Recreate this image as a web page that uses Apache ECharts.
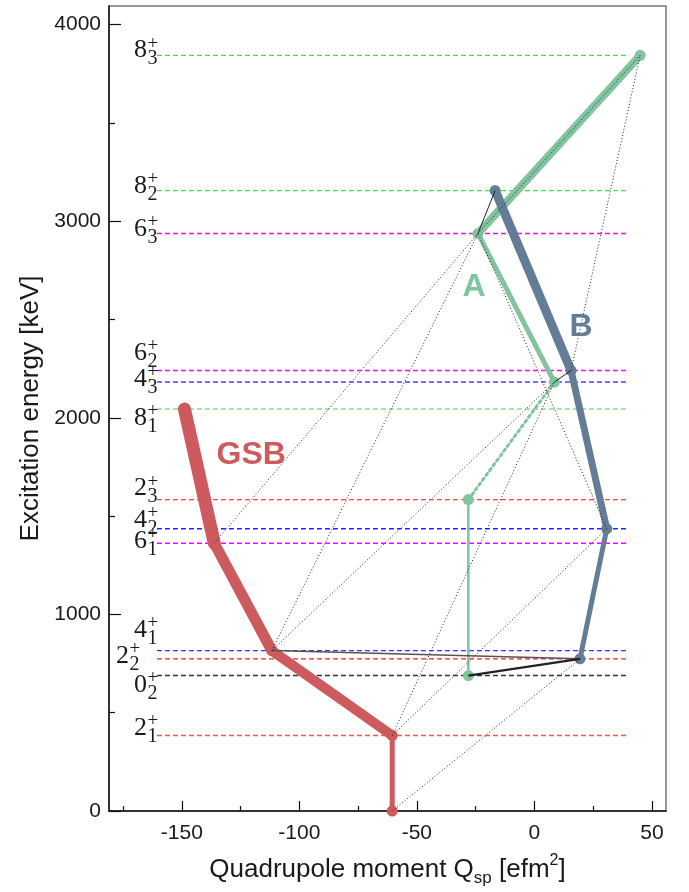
<!DOCTYPE html>
<html><head><meta charset="utf-8">
<script src="https://cdn.jsdelivr.net/npm/echarts@6/dist/echarts.min.js"></script>
<style>html,body{margin:0;padding:0;background:#fff}#c{width:689px;height:892px}</style>
</head><body><div id="c"></div>
<script>
// ---------------- DATA ----------------
// Ground-state band (GSB)
const gsbStates = ['0_1', '2_1', '4_1', '6_1', '8_1'];
const gsbEnergy = [0, 384, 816, 1362, 2045];
const gsbQ = [-60.5, -60.5, -111.7, -136.2, -148.9];
// Band A
const bandAStates = ['0_2', '2_3', '4_3', '6_3', '8_3'];
const bandAEnergy = [689, 1584, 2182, 2938, 3844];
const bandAQ = [-28.1, -28.1, 8.5, -24.0, 45.0];
// Band B
const bandBStates = ['2_2', '4_2', '6_2', '8_2'];
const bandBEnergy = [774, 1436, 2241, 3156];
const bandBQ = [19.4, 30.8, 15.6, -16.7];
// Level scheme (labels J^+_n)
const levelSpin = ['8', '8', '6', '6', '4', '8', '2', '4', '6', '4', '2', '0', '2'];
const levelIndex = ['3', '2', '3', '2', '3', '1', '3', '2', '1', '1', '2', '2', '1'];
const levelEnergy = [3844, 3156, 2938, 2241, 2182, 2045, 1584, 1436, 1362, 816, 774, 689, 384];
const levelLineQ = [-160.6, 40.3];
// Connections between states
const solidLinks = [['4_1', '2_2'], ['0_2', '2_2'], ['6_3', '8_2'], ['4_3', '6_2']];
const dottedLinks = [['0_1', '2_2'], ['2_1', '4_2'], ['2_1', '4_3'], ['4_1', '4_3'], ['4_1', '6_3'],
                     ['6_1', '6_3'], ['4_2', '6_3'], ['6_2', '8_3'], ['6_3', '8_3']];
// Axis ticks
const xTicks = [-150, -100, -50, 0, 50];
const xMinorTicks = [-175, -125, -75, -25, 25];
const yTicks = [0, 1000, 2000, 3000, 4000];
const yMinorTicks = [500, 1500, 2500, 3500];
const bandNames = ['GSB', 'A', 'B'];

// ---------------- STYLE / LAYOUT ----------------
const RED = '#cd5a5c', GREEN = '#82c3a0', SLATE = '#647d96';
const levelColor = ['#44dd44', '#44dd44', '#ff00ff', '#ff00ff', '#4444ff', '#88dd88', '#ff4040',
                    '#2222ff', '#ff00ff', '#3333ff', '#ee2020', '#333333', '#ff5050'];
const levelLabelDy = [-4.7, -4.8, -4.6, -17.5, -2.8, 9.5, -11, -8.7, -2.5, -20.7, -2.5, 9.3, -7.4];
const levelLabelDx = [0, 0, 0, 0, 0, 0, 0, 0, 0, 0, -18, 0, 0];
const gsbWidths = [5, 10, 11, 13];
const aWidths = [2.5, 3, 5, 8];
const bWidths = [5, 7, 9];
const bandLabelPos = [[-120.5, 1811], [-25.7, 2665], [19.9, 2461]];
const bandColors = [RED, GREEN, SLATE];

const coordOf = {};
function reg(states, q, e) { states.forEach((s, i) => coordOf[s] = [q[i], e[i]]); }
reg(gsbStates, gsbQ, gsbEnergy); reg(bandAStates, bandAQ, bandAEnergy); reg(bandBStates, bandBQ, bandBEnergy);

const series = [];
// level lines
levelEnergy.forEach((e, i) => {
  series.push({
    type: 'line', silent: true, symbol: 'none', z: 1,
    data: [[levelLineQ[0], e], [levelLineQ[1], e]],
    lineStyle: { color: levelColor[i], width: 1.4, type: [5, 3], opacity: 1 }
  });
});
// level labels
series.push({
  type: 'custom', silent: true, z: 5,
  data: levelEnergy.map((e, i) => [levelLineQ[0], e, i]),
  renderItem: function (params, api) {
    const i = api.value(2);
    const p = api.coord([api.value(0), api.value(1)]);
    const x0 = p[0] - 10 + levelLabelDx[i];
    const yc = p[1] + levelLabelDy[i];
    const font = '"Liberation Serif", "DejaVu Serif", serif';
    return {
      type: 'group', children: [
        { type: 'text', style: { text: levelSpin[i], x: x0, y: yc, align: 'right', verticalAlign: 'middle', font: '26px ' + font, fill: '#1a1a1a' } },
        { type: 'text', style: { text: '+', x: x0 + 0.5, y: yc - 7, align: 'left', verticalAlign: 'middle', font: '19px ' + font, fill: '#1a1a1a' } },
        { type: 'text', style: { text: levelIndex[i], x: x0 + 0.5, y: yc + 8.5, align: 'left', verticalAlign: 'middle', font: '20px ' + font, fill: '#1a1a1a' } }
      ]
    };
  }
});
function bandSegments(q, e, widths, color, dottedIdx) {
  for (let k = 0; k < q.length - 1; k++) {
    series.push({
      type: 'line', silent: true, symbol: 'none', z: 3,
      data: [[q[k], e[k]], [q[k + 1], e[k + 1]]],
      lineStyle: { color: color, width: widths[k], cap: 'round', join: 'round', type: k === dottedIdx ? [2.5, 3.5] : 'solid', opacity: 1 }
    });
  }
  series.push({
    type: 'scatter', silent: true, z: 4, symbol: 'circle', symbolSize: 11,
    data: q.map((v, k) => [v, e[k]]),
    itemStyle: { color: color, opacity: 1 }
  });
}
bandSegments(gsbQ, gsbEnergy, gsbWidths, RED, -1);
bandSegments(bandAQ, bandAEnergy, aWidths, GREEN, 1);
bandSegments(bandBQ, bandBEnergy, bWidths, SLATE, -1);

const solidStyle = [{ color: '#555', width: 1.5 }, { color: '#222', width: 2.2 }, { color: '#222', width: 1 }, { color: '#222', width: 1 }];
solidLinks.forEach((l, k) => {
  series.push({ type: 'line', silent: true, symbol: 'none', z: 6, data: [coordOf[l[0]], coordOf[l[1]]], lineStyle: solidStyle[k] });
});
dottedLinks.forEach((l) => {
  series.push({ type: 'line', silent: true, symbol: 'none', z: 6, data: [coordOf[l[0]], coordOf[l[1]]],
    lineStyle: { color: '#222', width: 1, type: [1, 2.2] } });
});
// band names
bandNames.forEach((n, k) => {
  series.push({
    type: 'scatter', silent: true, symbolSize: 0, z: 7, data: [bandLabelPos[k]],
    itemStyle: { opacity: 1 },
    label: { show: true, position: 'inside', formatter: n, color: bandColors[k], fontSize: 32, fontWeight: 'bold', fontFamily: '"Liberation Sans", Arial, sans-serif', opacity: 1 }
  });
});

const sans = '"Liberation Sans", Arial, sans-serif';
const plain = v => String(v);
const option = {
  animation: false,
  backgroundColor: '#fff',
  grid: { left: 109, right: 23, top: 6, bottom: 81, show: true, borderColor: '#777', borderWidth: 1.5, containLabel: false },
  xAxis: [{
    type: 'value', min: -181, max: 56, position: 'bottom',
    name: '{m|Quadrupole moment Q}{s|sp}{m| [efm}{p|2}{m|]}', nameLocation: 'middle', nameGap: 42,
    nameTextStyle: { rich: {
      m: { fontSize: 26, fontFamily: sans, color: '#1a1a1a', lineHeight: 34, verticalAlign: 'middle' },
      s: { fontSize: 17, fontFamily: sans, color: '#1a1a1a', lineHeight: 14, verticalAlign: 'bottom' },
      p: { fontSize: 16, fontFamily: sans, color: '#1a1a1a', lineHeight: 14, verticalAlign: 'top' } } },
    axisLine: { onZero: false, lineStyle: { color: '#111', width: 1.5 } },
    axisTick: { inside: true, length: 10, customValues: xTicks, lineStyle: { color: '#111', width: 1.2 } },
    axisLabel: { customValues: xTicks, fontSize: 21, fontFamily: sans, color: '#1a1a1a', margin: 12, formatter: plain },
    splitLine: { show: false }
  }, {
    type: 'value', min: -181, max: 56, position: 'bottom',
    axisLine: { show: false, onZero: false },
    axisTick: { inside: true, length: 5, customValues: xMinorTicks, lineStyle: { color: '#111', width: 1.2 } },
    axisLabel: { show: false }, splitLine: { show: false }
  }],
  yAxis: [{
    type: 'value', min: 0, max: 4095, position: 'left',
    name: 'Excitation energy [keV]', nameLocation: 'middle', nameGap: 64,
    nameTextStyle: { fontSize: 26, fontFamily: sans, color: '#1a1a1a' },
    axisLine: { onZero: false, lineStyle: { color: '#111', width: 1.5 } },
    axisTick: { inside: true, length: 12, customValues: yTicks, lineStyle: { color: '#111', width: 1.2 } },
    axisLabel: { customValues: yTicks, fontSize: 21, fontFamily: sans, color: '#1a1a1a', margin: 8, formatter: plain },
    splitLine: { show: false }
  }, {
    type: 'value', min: 0, max: 4095, position: 'left',
    axisLine: { show: false, onZero: false },
    axisTick: { inside: true, length: 6, customValues: yMinorTicks, lineStyle: { color: '#111', width: 1.2 } },
    axisLabel: { show: false }, splitLine: { show: false }
  }],
  series: series
};
const chart = echarts.init(document.getElementById('c'), null, { renderer: 'canvas' });
chart.setOption(option);
</script>
</body></html>
